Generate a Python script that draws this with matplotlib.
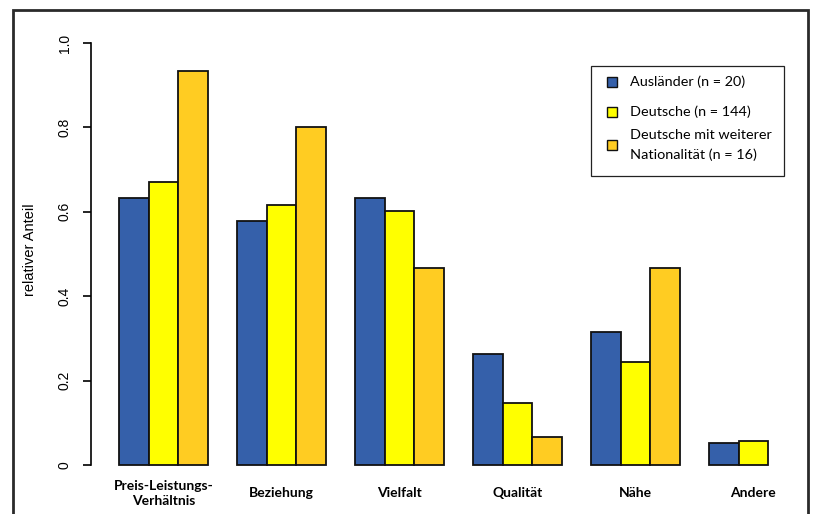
import numpy as np
import matplotlib.pyplot as plt
from matplotlib.patches import Rectangle

# Daten (relativer Anteil je Gruppe)
kategorien = ["Preis-Leistungs-\nVerhältnis", "Beziehung", "Vielfalt", "Qualität", "Nähe", "Andere"]
gruppen = ["Ausländer (n = 20)", "Deutsche (n = 144)", "Deutsche mit weiterer\nNationalität (n = 16)"]
auslaender = [0.632, 0.579, 0.632, 0.263, 0.316, 0.053]
deutsche = [0.671, 0.615, 0.601, 0.147, 0.245, 0.056]
deutsche_weitere = [0.933, 0.800, 0.467, 0.067, 0.467, 0.0]
farben = ["#3560aa", "#ffff00", "#ffcc22"]
yticks = [0, 0.2, 0.4, 0.6, 0.8, 1.0]
ytick_labels = ["0", "0.2", "0.4", "0.6", "0.8", "1.0"]

W, H = 821, 514
def fx(px):
    return px / W
def fy(py):
    return 1 - py / H

fig = plt.figure(figsize=(W / 100, H / 100), dpi=100)
ax = fig.add_axes([fx(91), fy(481.9), (W - 91) / W, (481.9 - 26.1) / H])

werte = [auslaender, deutsche, deutsche_weitere]
n_kat = len(kategorien)
for k, serie in enumerate(werte):
    # Balken mit Wert 0 werden nicht gezeichnet (wie in R)
    x = [1.5 + 4 * g + k for g in range(n_kat) if serie[g] > 0]
    h = [v for v in serie if v > 0]
    ax.bar(x, h, width=1, color=farben[k], edgecolor="#111111", linewidth=1.3)

ax.set_xlim(0.05, 0.05 + (W - 91) / 29.5)
ax.set_ylim(-0.04, 1.04)

for s in ["top", "right", "bottom"]:
    ax.spines[s].set_visible(False)
ax.spines["left"].set_bounds(0, 1)
ax.spines["left"].set_linewidth(1.2)

ax.set_yticks(yticks)
ax.set_yticklabels(ytick_labels, rotation=90, va="center", family="Liberation Sans", fontsize=10)
ax.tick_params(axis="y", length=5.5, width=1.2, pad=8.5)

ax.set_xticks([2.5 + 4 * g for g in range(n_kat)])
ax.set_xticklabels(kategorien, family="Lato", fontweight="bold", fontsize=10, va="center")
ax.tick_params(axis="x", length=0, pad=8)
for t in ax.get_xticklabels():
    t.set_linespacing(1.3)

fig.text(fx(30), fy(250), "relativer Anteil", rotation=90, ha="center", va="center",
         family="Liberation Sans", fontsize=10.5)

# Legende
fig.patches.append(Rectangle((fx(591), fy(176)), fx(784) - fx(591), fy(66) - fy(176),
                             transform=fig.transFigure, facecolor="white", edgecolor="#222222", lw=0.9))
zeilen_y = [82, 112, 145]
for k, name in enumerate(gruppen):
    fig.patches.append(Rectangle((fx(607), fy(zeilen_y[k] + 5)), fx(617) - fx(607), fy(zeilen_y[k] - 5) - fy(zeilen_y[k] + 5),
                                 transform=fig.transFigure, facecolor=farben[k], edgecolor="#111111", lw=1.0))
    fig.text(fx(630), fy(zeilen_y[k]), name, ha="left", va="center", family="Lato",
             fontsize=10.4, linespacing=1.8)

# Rahmen
fig.patches.append(Rectangle((fx(13), fy(540)), fx(808) - fx(13), fy(10) - fy(540),
                             transform=fig.transFigure, facecolor="none", edgecolor="#2a2a2a", lw=2.0,
                             clip_on=False))

fig.savefig("out.png", dpi=100)
